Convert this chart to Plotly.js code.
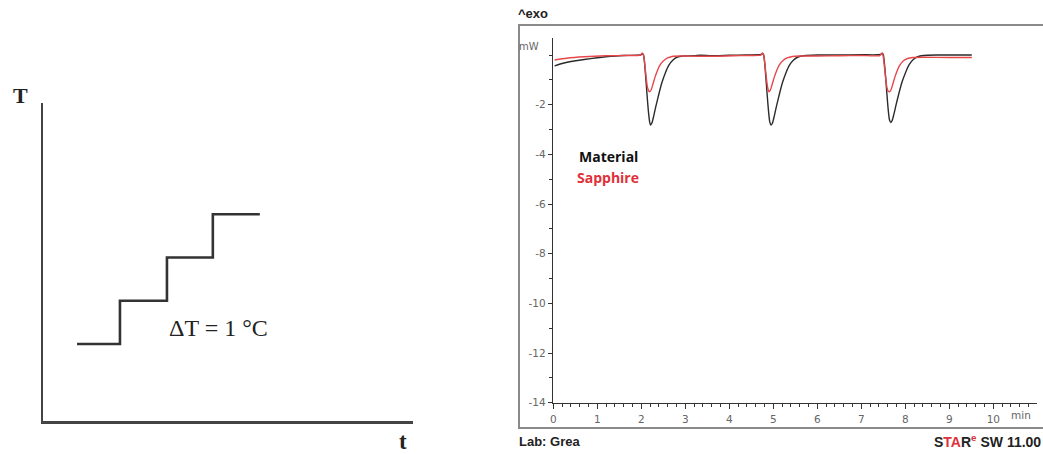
<!DOCTYPE html>
<html>
<head>
<meta charset="utf-8">
<script src="https://cdn.plot.ly/plotly-3.0.1.min.js"></script>
<style>html,body{margin:0;padding:0;background:#fff;}#chart{width:1043px;height:454px;}</style>
</head>
<body>
<div id="chart"></div>
<script>
// ---- Left schematic: temperature steps ----
const stepTime = [0.92, 2.08, 2.08, 3.35, 3.35, 4.59, 4.59, 5.86];
const stepTemp = [1, 1, 2, 2, 3, 3, 4, 4];

// ---- Right DSC chart: heat flow (mW) vs time (min) ----
const materialTime = [0.03, 0.2, 0.4, 0.7, 1.0, 1.3, 1.6, 1.98, 2.03, 2.05, 2.07, 2.10, 2.13, 2.16, 2.19, 2.21, 2.24, 2.28, 2.33, 2.40, 2.47, 2.55, 2.63, 2.72, 2.82, 2.95, 3.2, 3.35, 3.6, 4.0, 4.4, 4.72, 4.76, 4.78, 4.80, 4.83, 4.86, 4.89, 4.92, 4.95, 4.98, 5.02, 5.07, 5.14, 5.21, 5.29, 5.37, 5.46, 5.56, 5.69, 6.0, 6.5, 7.0, 7.44, 7.48, 7.50, 7.52, 7.55, 7.58, 7.61, 7.64, 7.67, 7.70, 7.74, 7.79, 7.86, 7.93, 8.01, 8.09, 8.18, 8.28, 8.41, 8.7, 9.1, 9.51];
const materialFlow = [-0.44, -0.34, -0.26, -0.18, -0.11, -0.05, -0.02, 0.0, 0.04, 0.0, -0.25, -0.9, -1.6, -2.25, -2.7, -2.82, -2.74, -2.47, -2.07, -1.56, -1.1, -0.7, -0.4, -0.2, -0.08, -0.04, -0.03, -0.01, -0.03, -0.01, 0.0, 0.02, 0.06, 0.0, -0.25, -0.9, -1.6, -2.25, -2.7, -2.82, -2.74, -2.47, -2.07, -1.56, -1.1, -0.7, -0.4, -0.2, -0.08, -0.03, 0.0, 0.0, 0.01, 0.02, 0.07, 0.0, -0.25, -0.85, -1.55, -2.2, -2.62, -2.72, -2.64, -2.38, -2.0, -1.5, -1.06, -0.68, -0.38, -0.18, -0.07, -0.02, 0.0, 0.0, 0.0];

const sapphireTime = [0.03, 0.3, 0.7, 1.2, 1.6, 1.98, 2.02, 2.05, 2.08, 2.11, 2.14, 2.17, 2.19, 2.22, 2.26, 2.31, 2.36, 2.42, 2.50, 2.60, 2.72, 2.9, 3.3, 3.7, 4.1, 4.5, 4.72, 4.75, 4.78, 4.81, 4.84, 4.87, 4.90, 4.93, 4.97, 5.02, 5.07, 5.13, 5.21, 5.31, 5.43, 5.6, 6.0, 6.5, 7.0, 7.42, 7.46, 7.49, 7.52, 7.55, 7.58, 7.61, 7.64, 7.67, 7.71, 7.76, 7.81, 7.87, 7.95, 8.05, 8.17, 8.4, 9.0, 9.51];
const sapphireFlow = [-0.2, -0.13, -0.07, -0.03, -0.02, 0.0, 0.08, 0.0, -0.4, -0.9, -1.3, -1.45, -1.48, -1.42, -1.2, -0.9, -0.65, -0.42, -0.24, -0.12, -0.05, -0.04, -0.05, -0.05, -0.03, -0.02, 0.0, 0.08, 0.0, -0.4, -0.9, -1.3, -1.48, -1.42, -1.2, -0.9, -0.65, -0.42, -0.24, -0.12, -0.06, -0.04, -0.04, -0.03, -0.02, -0.02, 0.07, 0.0, -0.4, -0.9, -1.3, -1.46, -1.48, -1.42, -1.2, -0.9, -0.65, -0.42, -0.24, -0.14, -0.1, -0.09, -0.1, -0.1];

const xTickVals = [0, 1, 2, 3, 4, 5, 6, 7, 8, 9, 10];
const yTickVals = [-2, -4, -6, -8, -10, -12, -14];
const yTickText = ['-2', '-4', '-6', '-8', '-10', '-12', '-14'];

const W = 1043, H = 454;
const px = x => x / W;
const py = y => 1 - y / H;

const traces = [
  {x: stepTime, y: stepTemp, xaxis: 'x', yaxis: 'y', mode: 'lines', type: 'scatter',
   line: {color: '#333', width: 2.6, shape: 'linear'}, hoverinfo: 'skip', showlegend: false},
  {x: materialTime, y: materialFlow, xaxis: 'x2', yaxis: 'y2', mode: 'lines', type: 'scatter',
   name: 'Material', line: {color: '#2b2b2b', width: 1.4, shape: 'spline', smoothing: 0.6}, showlegend: false},
  {x: sapphireTime, y: sapphireFlow, xaxis: 'x2', yaxis: 'y2', mode: 'lines', type: 'scatter',
   name: 'Sapphire', line: {color: '#e8474a', width: 1.4, shape: 'spline', smoothing: 0.6}, showlegend: false}
];

const tickFont = {family: 'DejaVu Sans, Verdana, sans-serif', size: 10.5, color: '#666'};

const layout = {
  width: W, height: H,
  margin: {l: 0, r: 0, t: 0, b: 0},
  paper_bgcolor: '#fff', plot_bgcolor: 'rgba(0,0,0,0)',
  showlegend: false,
  xaxis: {domain: [px(43), px(413)], range: [0, 10], showline: true, linecolor: '#444', linewidth: 2.5,
          showgrid: false, zeroline: false, showticklabels: false, ticks: '', fixedrange: true},
  yaxis: {domain: [py(421), py(103)], range: [-0.78, 6.57], showline: true, linecolor: '#444', linewidth: 2.5,
          showgrid: false, zeroline: false, showticklabels: false, ticks: '', fixedrange: true},
  xaxis2: {domain: [px(553.3), px(1036.5)], range: [0, 10.98], anchor: 'y2',
           showline: true, linecolor: '#333', linewidth: 1.5, showgrid: false, zeroline: false,
           tickmode: 'array', tickvals: xTickVals, ticks: 'outside', ticklen: 5, tickwidth: 1, tickcolor: '#333',
           minor: {tickmode: 'linear', tick0: 0, dtick: 0.2, ticks: 'outside', ticklen: 3, tickcolor: '#333', tickwidth: 1},
           tickfont: tickFont, ticklabelstandoff: 1},
  yaxis2: {domain: [py(402.7), py(38)], range: [-14, 0.685], anchor: 'x2',
           showline: true, linecolor: '#333', linewidth: 1.5, showgrid: false, zeroline: false,
           tickmode: 'array', tickvals: yTickVals, ticktext: yTickText, ticks: 'outside', ticklen: 4, tickwidth: 1, tickcolor: '#333',
           minor: {tickmode: 'linear', tick0: 0, dtick: 1, ticks: 'outside', ticklen: 3, tickcolor: '#333', tickwidth: 1},
           tickfont: tickFont},
  shapes: [
    {type: 'rect', xref: 'paper', yref: 'paper', x0: px(519), x1: px(1046), y0: py(428), y1: py(25),
     line: {color: '#8a8a8a', width: 2}, fillcolor: 'rgba(0,0,0,0)', layer: 'below'}
  ],
  annotations: [
    {xref: 'paper', yref: 'paper', x: px(20), y: py(96), text: '<b>T</b>', showarrow: false,
     font: {family: 'Liberation Serif, serif', size: 22, color: '#222'}, xanchor: 'center', yanchor: 'middle'},
    {xref: 'paper', yref: 'paper', x: px(403), y: py(441), text: '<b>t</b>', showarrow: false,
     font: {family: 'Liberation Serif, serif', size: 23, color: '#222'}, xanchor: 'center', yanchor: 'middle'},
    {xref: 'paper', yref: 'paper', x: px(218), y: py(328), text: 'ΔT = 1 °C', showarrow: false,
     font: {family: 'Liberation Serif, serif', size: 24, color: '#222'}, xanchor: 'center', yanchor: 'middle'},
    {xref: 'paper', yref: 'paper', x: px(516), y: py(13), text: '<b>^exo</b>', showarrow: false,
     font: {family: 'Liberation Sans, Arial, sans-serif', size: 13, color: '#222'}, xanchor: 'left', yanchor: 'middle'},
    {xref: 'paper', yref: 'paper', x: px(529), y: py(46), text: 'mW', showarrow: false,
     font: {family: 'DejaVu Sans, Verdana, sans-serif', size: 10, color: '#666'}, xanchor: 'center', yanchor: 'middle'},
    {xref: 'paper', yref: 'paper', x: px(1021), y: py(415), text: 'min', showarrow: false,
     font: {family: 'DejaVu Sans, Verdana, sans-serif', size: 10.5, color: '#666'}, xanchor: 'center', yanchor: 'middle'},
    {xref: 'paper', yref: 'paper', x: px(608), y: py(156), text: '<b>Material</b>', showarrow: false,
     font: {family: 'Open Sans, sans-serif', size: 14, color: '#111'}, xanchor: 'center', yanchor: 'middle'},
    {xref: 'paper', yref: 'paper', x: px(608), y: py(178), text: '<b>Sapphire</b>', showarrow: false,
     font: {family: 'Open Sans, sans-serif', size: 14, color: '#e0303a'}, xanchor: 'center', yanchor: 'middle'},
    {xref: 'paper', yref: 'paper', x: px(517), y: py(441), text: '<b>Lab: Grea</b>', showarrow: false,
     font: {family: 'Liberation Sans, Arial, sans-serif', size: 13, color: '#222'}, xanchor: 'left', yanchor: 'middle'},
    {xref: 'paper', yref: 'paper', x: px(1043), y: py(441),
     text: '<b>S<span style="color:#e0303a">TA</span>R<sup><span style="color:#e0303a">e</span></sup> SW 11.00</b>', showarrow: false,
     font: {family: 'Liberation Sans, Arial, sans-serif', size: 14, color: '#222'}, xanchor: 'right', yanchor: 'middle'}
  ]
};

Plotly.newPlot('chart', traces, layout, {staticPlot: true, displayModeBar: false});
</script>
</body>
</html>
